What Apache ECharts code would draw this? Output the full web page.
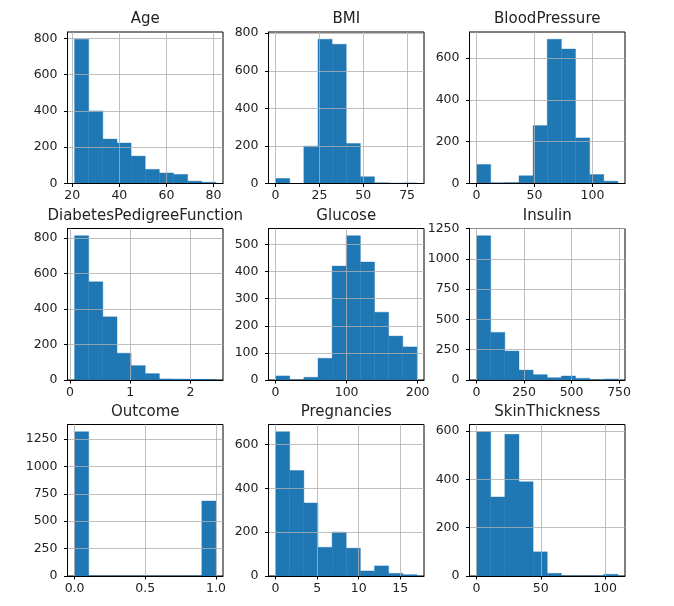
<!DOCTYPE html>
<html>
<head>
<meta charset="utf-8">
<script src="https://cdn.jsdelivr.net/npm/echarts@6/dist/echarts.min.js"></script>
<style>
html,body{margin:0;padding:0;background:#fff;}
#chart{width:674px;height:606px;}
</style>
</head>
<body>
<div id="chart"></div>
<script>
// ---- data (histograms, 10 bins each) ----
const titles = ['Age','BMI','BloodPressure','DiabetesPedigreeFunction','Glucose','Insulin','Outcome','Pregnancies','SkinThickness'];

const ageCounts      = [795, 400, 245, 223, 151, 78, 58, 50, 13, 7];
const bmiCounts      = [27, 0, 199, 768, 741, 213, 36, 4, 2, 3];
const bpCounts       = [91, 4, 5, 37, 277, 690, 643, 218, 43, 11];
const dpfCounts      = [813, 553, 356, 151, 81, 36, 6, 5, 4, 4];
const glucoseCounts  = [15, 0, 10, 80, 420, 532, 435, 250, 162, 122];
const insulinCounts  = [1191, 393, 239, 82, 44, 19, 33, 14, 0, 8];
const outcomeCounts  = [1316, 0, 0, 0, 0, 0, 0, 0, 0, 684];
const pregCounts     = [658, 481, 333, 131, 200, 127, 23, 46, 12, 6];
const skinCounts     = [597, 327, 586, 390, 100, 11, 0, 0, 0, 7];

// data range (min, max) of each column
const ageRange = [21, 81];
const bmiRange = [0, 80.6];
const bpRange = [0, 122];
const dpfRange = [0.078, 2.42];
const glucoseRange = [0, 199];
const insulinRange = [0, 744];
const outcomeRange = [0, 1];
const pregRange = [0, 17];
const skinRange = [0, 110];

// tick labels
const ageXTicks = [20, 40, 60, 80];
const bmiXTicks = [0, 25, 50, 75];
const bpXTicks = [0, 50, 100];
const dpfXTicks = [0, 1, 2];
const glucoseXTicks = [0, 100, 200];
const insulinXTicks = [0, 250, 500, 750];
const outcomeXTicks = [0, 0.5, 1];
const pregXTicks = [0, 5, 10, 15];
const skinXTicks = [0, 50, 100];

const ageYTicks = [0, 200, 400, 600, 800];
const bmiYTicks = [0, 200, 400, 600, 800];
const bpYTicks = [0, 200, 400, 600];
const dpfYTicks = [0, 200, 400, 600, 800];
const glucoseYTicks = [0, 100, 200, 300, 400, 500];
const insulinYTicks = [0, 250, 500, 750, 1000, 1250];
const outcomeYTicks = [0, 250, 500, 750, 1000, 1250];
const pregYTicks = [0, 200, 400, 600];
const skinYTicks = [0, 200, 400, 600];

const panels = [
  {counts: ageCounts, range: ageRange, xt: ageXTicks, yt: ageYTicks},
  {counts: bmiCounts, range: bmiRange, xt: bmiXTicks, yt: bmiYTicks},
  {counts: bpCounts, range: bpRange, xt: bpXTicks, yt: bpYTicks},
  {counts: dpfCounts, range: dpfRange, xt: dpfXTicks, yt: dpfYTicks},
  {counts: glucoseCounts, range: glucoseRange, xt: glucoseXTicks, yt: glucoseYTicks},
  {counts: insulinCounts, range: insulinRange, xt: insulinXTicks, yt: insulinYTicks},
  {counts: outcomeCounts, range: outcomeRange, xt: outcomeXTicks, yt: outcomeYTicks, fmt: v => v.toFixed(1)},
  {counts: pregCounts, range: pregRange, xt: pregXTicks, yt: pregYTicks},
  {counts: skinCounts, range: skinRange, xt: skinXTicks, yt: skinYTicks}
];

// ---- layout ----
const colLeft = [67.5, 268.5, 469.5];
const rowTop = [32, 228.5, 424.5];
const W = 155.5, H = 151.5;
const FONT = '"DejaVu Sans", sans-serif';
const TXT = '#222';

const option = {
  animation: false,
  backgroundColor: '#fff',
  title: [], grid: [], xAxis: [], yAxis: [], series: []
};

panels.forEach((p, i) => {
  const r = Math.floor(i / 3), c = i % 3;
  const lo = p.range[0], hi = p.range[1];
  const span = hi - lo;
  const nb = p.counts.length;
  const bw = span / nb;
  const data = p.counts.map((v, k) => [lo + k * bw, lo + (k + 1) * bw, v]);
  const ymax = Math.max(...p.counts) * 1.05;

  option.title.push({
    text: titles[i],
    left: colLeft[c] + W / 2,
    textAlign: 'center',
    top: rowTop[r] - 20,
    padding: 0,
    textStyle: {fontFamily: FONT, fontSize: 15, fontWeight: 'normal', color: TXT}
  });
  option.grid.push({
    left: colLeft[c], top: rowTop[r], width: W, height: H,
    show: true, borderColor: '#000', borderWidth: 1, backgroundColor: 'transparent'
  });
  option.xAxis.push({
    type: 'value', gridIndex: i, z: 5,
    min: lo - 0.05 * span, max: hi + 0.05 * span,
    axisLine: {show: true, onZero: false, lineStyle: {color: '#000', width: 1}},
    axisTick: {show: true, length: 3.5, lineStyle: {color: '#000'}, customValues: p.xt},
    axisLabel: {customValues: p.xt, fontFamily: FONT, fontSize: 12.5, color: TXT, margin: 6,
      formatter: p.fmt ? p.fmt : (v => String(v))},
    splitLine: {show: true, lineStyle: {color: '#b0b0b0', width: 0.8}}
  });
  option.yAxis.push({
    type: 'value', gridIndex: i, z: 5,
    min: 0, max: ymax,
    axisLine: {show: true, onZero: false, lineStyle: {color: '#000', width: 1}},
    axisTick: {show: true, length: 3.5, lineStyle: {color: '#000'}, customValues: p.yt},
    axisLabel: {customValues: p.yt, fontFamily: FONT, fontSize: 12.5, color: TXT, margin: 10,
      formatter: v => String(v)},
    splitLine: {show: true, lineStyle: {color: '#b0b0b0', width: 0.8}}
  });
  option.series.push({
    type: 'custom', xAxisIndex: i, yAxisIndex: i, z: 2,
    data: data,
    encode: {x: [0, 1], y: 2},
    renderItem: (params, api) => {
      const a = api.coord([api.value(0), api.value(2)]);
      const b = api.coord([api.value(1), 0]);
      return {type: 'rect', shape: {x: a[0], y: a[1], width: b[0] - a[0], height: b[1] - a[1]},
        style: {fill: '#1f77b4', stroke: '#1f77b4', lineWidth: 0.4}};
    }
  });
});

const chart = echarts.init(document.getElementById('chart'), null, {renderer: 'canvas'});
chart.setOption(option);
</script>
</body>
</html>
